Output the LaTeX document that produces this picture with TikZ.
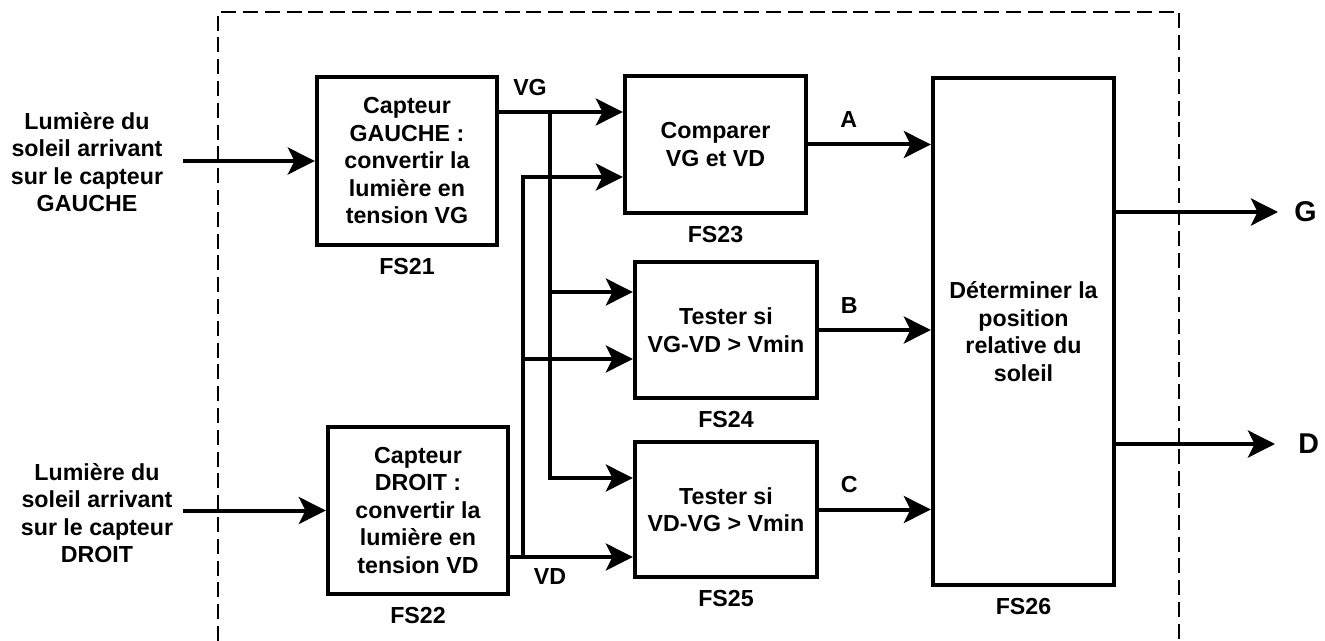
\documentclass[tikz,border=0pt]{standalone}
\usepackage{fontspec}
\setmainfont{Liberation Sans}
\usetikzlibrary{arrows.meta}

\begin{document}
\begin{tikzpicture}[x=0.5pt,y=-0.5pt,
  font=\fontsize{11.6}{13.75}\selectfont\bfseries,
  bloc/.style={draw,line width=2.2pt,align=center,inner sep=0pt},
  fleche/.style={line width=2pt,-{Stealth[length=13.5pt,width=13.5pt,inset=3.3pt]}},
  fs/.style={label={[label distance=2pt]below:#1}},
  sortie/.style={anchor=west,inner sep=0pt,font=\fontsize{14.3}{16}\selectfont\bfseries}]
\useasboundingbox (0,0) rectangle (1325,641);
\draw[line width=0.7pt,dash pattern=on 7.5pt off 3.4pt] (218,641) -- (218,12) -- (1179,12) -- (1179,641);

\node[align=center] (in1) at (87,162) {Lumière du\\soleil arrivant\\sur le capteur\\GAUCHE};
\node[align=center] (in2) at (97,513) {Lumière du\\soleil arrivant\\sur le capteur\\DROIT};
\coordinate (e1) at (183,161);
\coordinate (e2) at (183,510.5);

\node[bloc,minimum width=90pt,minimum height=84pt,fs=FS21] (fs21) at (407,161) {Capteur\\GAUCHE :\\convertir la\\lumière en\\tension VG};
\node[bloc,minimum width=90pt,minimum height=83.5pt,fs=FS22] (fs22) at (418,510.5) {Capteur\\DROIT :\\convertir la\\lumière en\\tension VD};
\node[bloc,minimum width=90.5pt,minimum height=68.5pt,fs=FS23] (fs23) at (715.5,144.5) {Comparer\\VG et VD};
\node[bloc,minimum width=91pt,minimum height=68pt,fs=FS24] (fs24) at (726,330) {Tester si\\VG-VD > Vmin};
\node[bloc,minimum width=91pt,minimum height=67.5pt,fs=FS25] (fs25) at (726,509.5) {Tester si\\VD-VG > Vmin};
\node[bloc,minimum width=90.5pt,minimum height=253.5pt,fs=FS26] (fs26) at (1023.5,331.5) {Déterminer la\\position\\relative du\\soleil};

\draw[fleche] (e1) -- (fs21.west);
\draw[fleche] (e2) -- (fs22.west);

\coordinate (jg) at (550,112);
\coordinate (jd) at (523,557);
\node (lvg) at (530,88) {VG};
\node (lvd) at (550,577) {VD};
\draw[fleche] (fs21.east |- jg) -- (fs23.west |- jg);
\draw[fleche] (jg) |- (fs24.west |- 0,292);
\draw[fleche] (jg) |- (fs25.west |- 0,478);
\draw[fleche] (fs22.east |- jd) -- (fs25.west |- jd);
\draw[fleche] (jd) |- (fs24.west |- 0,359);
\draw[fleche] (jd) |- (fs23.west |- 0,177);

\draw[fleche] (fs23.east) -- (fs26.west |- fs23.east) node[pos=.33,above=4pt] (la) {A};
\draw[fleche] (fs24.east) -- (fs26.west |- fs24.east) node[pos=.27,above=4pt] (lb) {B};
\draw[fleche] (fs25.east) -- (fs26.west |- fs25.east) node[pos=.27,above=4pt] (lc) {C};

\node[sortie] (sg) at (1294,212) {G};
\node[sortie] (sd) at (1298,444) {D};
\draw[fleche] (fs26.east |- sg) -- ([xshift=-8pt]sg.west);
\draw[fleche] (fs26.east |- sd) -- ([xshift=-11.5pt]sd.west);
\end{tikzpicture}
\end{document}
